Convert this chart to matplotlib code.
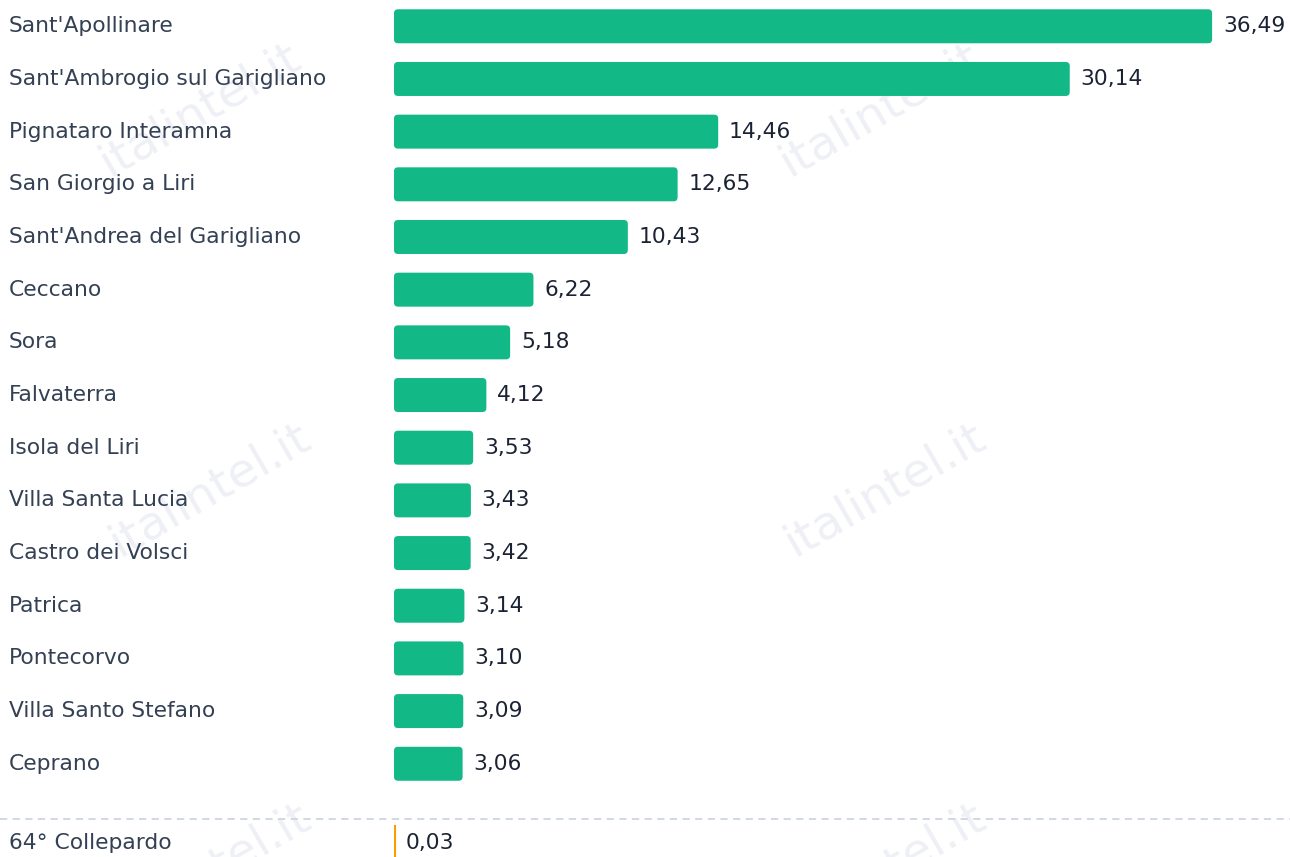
import matplotlib
matplotlib.use("Agg")
import matplotlib.pyplot as plt
import matplotlib.transforms as mtransforms
from matplotlib.patches import FancyBboxPatch

# data
comuni = ["Sant'Apollinare", "Sant'Ambrogio sul Garigliano", "Pignataro Interamna",
          "San Giorgio a Liri", "Sant'Andrea del Garigliano", "Ceccano", "Sora",
          "Falvaterra", "Isola del Liri", "Villa Santa Lucia", "Castro dei Volsci",
          "Patrica", "Pontecorvo", "Villa Santo Stefano", "Ceprano"]
valori = [36.49, 30.14, 14.46, 12.65, 10.43, 6.22, 5.18, 4.12, 3.53, 3.43, 3.42,
          3.14, 3.10, 3.09, 3.06]
extra_label = "64° Collepardo"
extra_val = 0.03

GREEN = "#12b886"
ORANGE = "#f59f00"
LABEL_C = "#344054"
VALUE_C = "#1a2233"
FS = 15.7

def fmt(v):
    return f"{v:.2f}".replace(".", ",")

fig = plt.figure(figsize=(12.9, 8.57), dpi=100)
ax = fig.add_axes([394 / 1290, 0, 896 / 1290, 1])
ax.set_xlim(0, 896 / 22.42)
ax.set_ylim(15.77, -0.499)
ax.axis("off")

# watermark (behind everything)
for wx, wy in [(200, 110), (880, 110), (210, 490), (885, 490), (210, 870), (885, 870)]:
    fig.text(wx / 1290, 1 - wy / 857, "italintel.it", fontsize=34, color="#eef0f6",
             rotation=30, ha="center", va="center", zorder=-1)

bar_h = 34 / 52.7
r = 4 / 22.42
aspect = 22.42 / 52.7
for i, (name, v) in enumerate(zip(comuni, valori)):
    p = FancyBboxPatch((0, i - bar_h / 2), v, bar_h,
                       boxstyle=f"round,pad=0,rounding_size={r}",
                       mutation_aspect=aspect, fc=GREEN, ec="none", zorder=2)
    ax.add_patch(p)
    ax.annotate(fmt(v), (v, i), xytext=(7.8, 0), textcoords="offset points",
                va="center", ha="left", fontsize=FS, color=VALUE_C)

lab_tr = mtransforms.blended_transform_factory(fig.transFigure, ax.transData)
for i, name in enumerate(comuni):
    ax.text(9 / 1290, i, name, transform=lab_tr, va="center", ha="left",
            fontsize=FS, color=LABEL_C)

# separator and extra row
sep_y = 15.05
ax.plot([0, 1], [sep_y, sep_y], transform=lab_tr, color="#cfd6e2", lw=1.3,
        ls=(0, (4, 3)), clip_on=False)
y_ex = 15.5
ax.barh(y_ex, extra_val, height=bar_h, color=ORANGE, edgecolor=ORANGE, lw=1.5)
ax.text(9 / 1290, y_ex, extra_label, transform=lab_tr, va="center", ha="left",
        fontsize=FS, color=LABEL_C)
ax.annotate(fmt(extra_val), (extra_val, y_ex), xytext=(7.8, 0), textcoords="offset points",
            va="center", ha="left", fontsize=FS, color=VALUE_C)

fig.savefig("out.png", dpi=100)
